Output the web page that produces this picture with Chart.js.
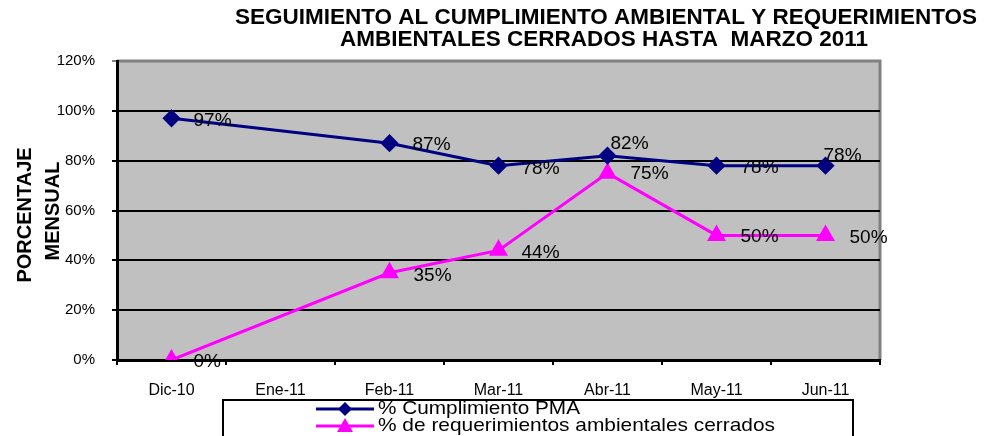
<!DOCTYPE html>
<html lang="es">
<head>
  <meta charset="UTF-8" />
  <title>Seguimiento al cumplimiento ambiental</title>
  <script src="https://cdn.jsdelivr.net/npm/chart.js"></script>
  <style>
    html, body { margin: 0; padding: 0; background: #ffffff; }
    .wrap { width: 984px; height: 436px; position: relative; }
  </style>
</head>
<body>
  <div class="wrap"><canvas id="chart" width="984" height="436"></canvas></div>
  <script>
    // datos
    const meses = ['Dic-10', 'Ene-11', 'Feb-11', 'Mar-11', 'Abr-11', 'May-11', 'Jun-11'];
    const cumplimientoPMA = [97, null, 87, 78, 82, 78, 78];
    const requerimientosCerrados = [0, null, 35, 44, 75, 50, 50];
    const yTicks = [0, 20, 40, 60, 80, 100, 120];
    const tituloLineas = [
      'SEGUIMIENTO AL CUMPLIMIENTO AMBIENTAL Y REQUERIMIENTOS',
      'AMBIENTALES CERRADOS HASTA  MARZO 2011'
    ];
    const tituloEje = ['PORCENTAJE', 'MENSUAL'];

    // desplazamiento de las etiquetas respecto al punto (dx, dy)
    const offsets = [
      [[22, 2], null, [23, 2], [23, 3], [3, -12], [24, 2], [-2, -10]],
      [[22, 2], null, [24, 3], [23, 2], [23, 1], [24, 1], [24, 2]]
    ];

    const FONT = '"Liberation Sans", Arial, sans-serif';

    // texto ajustado a un ancho dado (la fuente original es mas ancha)
    function textoAncho(ctx, txt, x, y, ancho, align) {
      const w = ctx.measureText(txt).width;
      const k = ancho / w;
      ctx.save();
      ctx.textAlign = 'left';
      const x0 = align === 'center' ? x - ancho / 2 : x;
      ctx.translate(x0, y);
      ctx.scale(k, 1);
      ctx.fillText(txt, 0, 0);
      ctx.restore();
    }

    const fondoPlot = {
      id: 'fondoPlot',
      beforeDraw(chart) {
        const { ctx, chartArea: a } = chart;
        ctx.save();
        ctx.fillStyle = '#c0c0c0';
        ctx.fillRect(a.left, a.top, a.right - a.left, a.bottom - a.top);
        ctx.strokeStyle = '#808080';
        ctx.lineWidth = 3;
        ctx.beginPath();
        ctx.moveTo(a.right, a.bottom);
        ctx.lineTo(a.right, a.top);
        ctx.lineTo(a.left, a.top);
        ctx.stroke();
        ctx.restore();
      }
    };

    const textos = {
      id: 'textos',
      afterDraw(chart) {
        const ctx = chart.ctx;
        ctx.save();
        // titulo
        ctx.fillStyle = '#000';
        ctx.font = 'bold 22px ' + FONT;
        ctx.textBaseline = 'middle';
        textoAncho(ctx, tituloLineas[0], 606, 18, 742, 'center');
        textoAncho(ctx, tituloLineas[1], 604, 40, 528, 'center');

        // titulo eje y
        ctx.textAlign = 'center';
        ctx.font = 'bold 20px ' + FONT;
        ctx.save();
        ctx.translate(25, 215);
        ctx.rotate(-Math.PI / 2);
        ctx.fillText(tituloEje[0], 0, 0);
        ctx.restore();
        ctx.save();
        ctx.translate(53, 211);
        ctx.rotate(-Math.PI / 2);
        ctx.fillText(tituloEje[1], 0, 0);
        ctx.restore();

        // etiquetas de datos
        ctx.font = '19px ' + FONT;
        ctx.textAlign = 'left';
        chart.data.datasets.forEach((ds, di) => {
          const meta = chart.getDatasetMeta(di);
          meta.data.forEach((pt, i) => {
            const v = ds.data[i];
            if (v === null || !offsets[di][i]) return;
            const [dx, dy] = offsets[di][i];
            ctx.fillText(v + '%', pt.x + dx, pt.y + dy);
          });
        });

        // leyenda
        ctx.strokeStyle = '#000';
        ctx.lineWidth = 2;
        ctx.strokeRect(223, 400, 630, 60);
        ctx.font = '19px ' + FONT;
        const filas = [409, 426];
        const anchos = [202, 397];
        chart.data.datasets.forEach((ds, di) => {
          const y = filas[di];
          ctx.strokeStyle = ds.borderColor;
          ctx.lineWidth = 3;
          ctx.beginPath();
          ctx.moveTo(316, y);
          ctx.lineTo(374, y);
          ctx.stroke();
          ctx.fillStyle = ds.pointBackgroundColor;
          ctx.beginPath();
          if (ds.pointStyle === 'rectRot') {
            ctx.moveTo(345, y - 7); ctx.lineTo(352, y); ctx.lineTo(345, y + 7); ctx.lineTo(338, y);
          } else {
            ctx.moveTo(345, y - 8); ctx.lineTo(353, y + 6); ctx.lineTo(337, y + 6);
          }
          ctx.closePath();
          ctx.fill();
          ctx.fillStyle = '#000';
          textoAncho(ctx, ds.label, 378, y, anchos[di], 'left');
        });
        ctx.restore();
      }
    };

    new Chart(document.getElementById('chart'), {
      type: 'line',
      data: {
        labels: meses,
        datasets: [
          {
            label: '% Cumplimiento PMA',
            data: cumplimientoPMA,
            borderColor: '#000080',
            backgroundColor: '#000080',
            pointBackgroundColor: '#000080',
            pointBorderColor: '#000080',
            pointStyle: 'rectRot',
            pointRadius: 7,
            borderWidth: 3,
            spanGaps: true,
            tension: 0
          },
          {
            label: '% de requerimientos ambientales cerrados',
            data: requerimientosCerrados,
            borderColor: '#ff00ff',
            backgroundColor: '#ff00ff',
            pointBackgroundColor: '#ff00ff',
            pointBorderColor: '#ff00ff',
            pointStyle: 'triangle',
            pointRadius: 8,
            borderWidth: 3,
            spanGaps: true,
            tension: 0
          }
        ]
      },
      options: {
        responsive: false,
        animation: false,
        layout: { padding: { top: 61, right: 104, left: 0, bottom: 0 } },
        plugins: {
          legend: { display: false },
          title: { display: false },
          tooltip: { enabled: false }
        },
        scales: {
          x: {
            offset: true,
            afterFit(s) { s.height = 76; },
            grid: {
              offset: true,
              drawOnChartArea: false,
              drawTicks: true,
              tickLength: 5,
              color: '#000',
              lineWidth: 2
            },
            border: { color: '#000', width: 3 },
            ticks: {
              color: '#000',
              padding: 16,
              maxRotation: 0,
              font: { family: FONT, size: 16 }
            }
          },
          y: {
            min: 0,
            max: 120,
            afterFit(s) { s.width = 117; },
            afterBuildTicks(s) { s.ticks = yTicks.map(v => ({ value: v })); },
            grid: {
              color: ctx => (ctx.tick && ctx.tick.value === 120 ? '#808080' : '#000'),
              lineWidth: 2,
              tickLength: 5
            },
            border: { color: '#000', width: 3 },
            ticks: {
              color: '#000',
              padding: 17,
              callback: v => v + '%',
              font: { family: FONT, size: 15 }
            }
          }
        }
      },
      plugins: [fondoPlot, textos]
    });
  </script>
</body>
</html>
